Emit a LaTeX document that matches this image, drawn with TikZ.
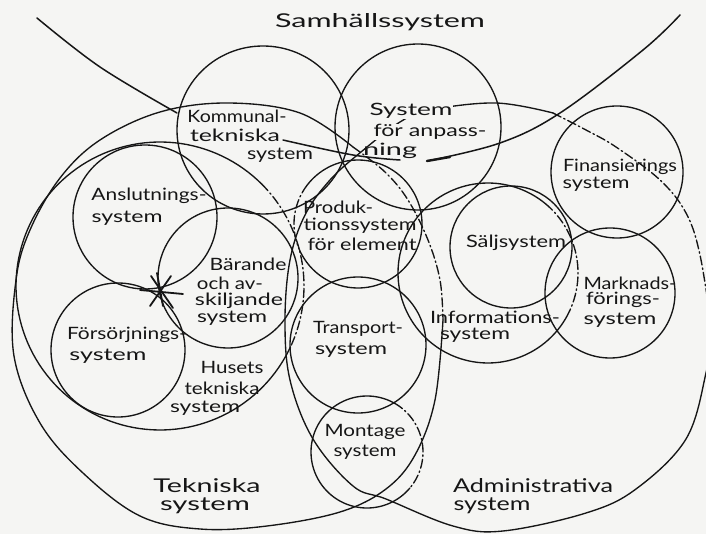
\documentclass[tikz,border=0pt]{standalone}
\usepackage{fontspec}
\setmainfont{Lato}
\usepackage{graphicx}
\definecolor{paper}{HTML}{F5F5F3}
\definecolor{ink}{HTML}{161616}
% stretch a line of text to a given width, keeping its height
\newcommand{\hw}[2]{\resizebox{#1pt}{\height}{#2}}

\begin{document}
\begin{tikzpicture}[x=1pt,y=-1pt,
  pen/.style={draw=ink, line width=1.35pt, line cap=round, line join=round},
  dashpen/.style={pen, dash pattern=on 9pt off 3pt on 1.5pt off 3pt},
  lbl/.style={inner sep=0.6pt, text=ink, font=\fontsize{17}{20}\selectfont},
  biglbl/.style={lbl, font=\fontsize{19}{22}\selectfont},
  masked/.style={lbl, fill=paper},
]
\fill[paper] (0,0) rectangle (706,534);
\useasboundingbox (0,0) rectangle (706,534);
\clip (0,0) rectangle (706,534);

% --- society curve (Samhällssystem), drawn in three strokes ---
\draw[pen, line width=1.5pt] plot[smooth, tension=0.6] coordinates {(37,18) (100,67) (177,113)};
\draw[pen, line width=1.5pt] plot[smooth, tension=0.6] coordinates {(283,140) (353,155) (400,160)};
\draw[pen, line width=1.5pt] plot[smooth, tension=0.6] coordinates {(427,161) (500,143) (560,113) (643,50) (680,15)};
\draw[pen, line width=2.4pt] (427,161) -- (450,157);

% --- technical systems (Tekniska system) ---
\draw[pen] plot[smooth, tension=0.6] coordinates {(443,320) (435,400) (415,455) (386,489) (340,512) (267,526) (200,529) (140,516) (83,473) (40,423) (14,356) (16,280) (30,230) (60,178) (100,140) (160,112) (228,103) (300,113) (353,147)};
\draw[dashpen] plot[smooth, tension=0.6] coordinates {(353,147) (385,172) (408,200) (428,240) (440,280) (443,320)};

% --- administrative systems (Administrativa system) ---
\draw[pen] plot[smooth, tension=0.6] coordinates {(553,113) (496,103) (430,110) (400,122) (361,152) (330,180) (305,215) (290,260) (285,320) (290,380) (313,439) (353,486) (386,499) (453,526) (503,531) (586,513) (636,489) (686,439) (706,373) (712,330)};
\draw[dashpen] plot[smooth, tension=0.6] coordinates {(553,113) (586,130) (616,147) (660,180) (686,213) (700,255) (712,330)};

% --- the house's technical systems (Husets tekniska system) ---
\draw[pen] plot[domain=25:315, samples=120, variable=\t] ({160+144*cos(\t)},{286+144*sin(\t)});
\draw[dashpen] plot[domain=-45:25, samples=40, variable=\t] ({160+144*cos(\t)},{286+144*sin(\t)});

% --- subsystem circles ---
\draw[pen] (263,130) ellipse[x radius=86pt, y radius=84pt];   % Kommunaltekniska
\draw[pen] (418,127) circle[radius=83pt];                     % anpassning
\draw[pen] (617,172) circle[radius=66pt];                     % Finansierings
\draw[pen] (145,217) circle[radius=72pt];                     % Anslutnings
\draw[pen] (228,278) circle[radius=70pt];                     % Bärande
\draw[pen] (118,350) circle[radius=67pt];                     % Försörjnings
\draw[pen] (511,247) circle[radius=61pt];                     % Sälj
\draw[pen] (610,293) circle[radius=65pt];                     % Marknadsförings
\draw[pen] (358,345) circle[radius=68pt];                     % Transport
% Produktion
\draw[pen] plot[domain=215:510, samples=100, variable=\t] ({358+64*cos(\t)},{224+64*sin(\t)});
\draw[dashpen] plot[domain=150:215, samples=30, variable=\t] ({358+64*cos(\t)},{224+64*sin(\t)});
% Information
\draw[pen] plot[domain=25:310, samples=100, variable=\t] ({488+90*cos(\t)},{273+90*sin(\t)});
\draw[dashpen] plot[domain=-50:25, samples=40, variable=\t] ({488+90*cos(\t)},{273+90*sin(\t)});
% Montage
\draw[pen] plot[domain=40:300, samples=100, variable=\t] ({367+56*cos(\t)},{452+56*sin(\t)});
\draw[dashpen] plot[domain=-60:40, samples=40, variable=\t] ({367+56*cos(\t)},{452+56*sin(\t)});

% --- star where three circles meet ---
\coordinate (star) at (161,291);
\draw[pen, line width=1.8pt] (140,290) -- (183,294);
\draw[pen, line width=1.8pt] (157,273) -- (163,306);
\draw[pen, line width=1.8pt] (151,276) -- (173,308);
\draw[pen, line width=1.8pt] (171,276) -- (150,306);

% --- labels ---
\node[biglbl] (samh) at (380,22) {\hw{210}{Samhällssystem}};

\node[lbl] (k1) at (237,116) {\hw{99}{Kommunal-}};
\node[lbl] (k2) at (235,135) {\hw{90}{tekniska}};
\node[lbl] (k3) at (280,155) {\hw{66}{system}};

\node[masked] (a1) at (411,111) {\hw{83}{System}};
\node[masked] (a2) at (430,132) {\hw{113}{för anpass-}};
\node[lbl] (a3) at (390,151) {\hw{54}{ning}};

\node[lbl] (f1) at (620,167) {\hw{114}{Finansierings}};
\node[lbl] (f2) at (596,184) {\hw{67}{system}};

\node[lbl] (an1) at (149,196) {\hw{115}{Anslutnings-}};
\node[lbl] (an2) at (127,218) {\hw{71}{system}};

\node[lbl] (p1) at (338,207) {\hw{70}{Produk-}};
\node[lbl] (p2) at (360,226) {\hw{113}{tionssystem}};
\node[lbl] (p3) at (362,244) {\hw{109}{för element}};

\node[lbl] (s1) at (516,243) {\hw{100}{Säljsystem}};

\node[lbl] (b1) at (248,264) {\hw{77}{Bärande}};
\node[lbl] (b2) at (230,283) {\hw{66}{och av-}};
\node[lbl] (b3) at (239,301) {\hw{88}{skiljande}};
\node[lbl] (b4) at (232,318) {\hw{70}{system}};

\node[lbl] (m1) at (630,283) {\hw{93}{Marknads-}};
\node[lbl] (m2) at (623,300) {\hw{74}{förings-}};
\node[lbl] (m3) at (620,320) {\hw{73}{system}};

\node[lbl] (fo1) at (127,335) {\hw{120}{Försörjnings-}};
\node[lbl] (fo2) at (108,356) {\hw{77}{system}};

\node[lbl] (t1) at (358,329) {\hw{90}{Transport-}};
\node[lbl] (t2) at (351,350) {\hw{72}{system}};

\node[lbl] (i1) at (495,317) {\hw{130}{Informations-}};
\node[lbl] (i2) at (475,335) {\hw{70}{system}};

\node[lbl] (h1) at (232,367) {\hw{63}{Husets}};
\node[lbl] (h2) at (222,388) {\hw{75}{tekniska}};
\node[lbl] (h3) at (205,408) {\hw{70}{system}};

\node[lbl] (mo1) at (365,432) {\hw{81}{Montage}};
\node[lbl] (mo2) at (365,452) {\hw{63}{system}};

\node[biglbl] (te1) at (207,486) {\hw{107}{Tekniska}};
\node[biglbl] (te2) at (205,506) {\hw{90}{system}};

\node[biglbl] (ad1) at (533,486) {\hw{160}{Administrativa}};
\node[biglbl] (ad2) at (492,506) {\hw{77}{system}};
\end{tikzpicture}
\end{document}
